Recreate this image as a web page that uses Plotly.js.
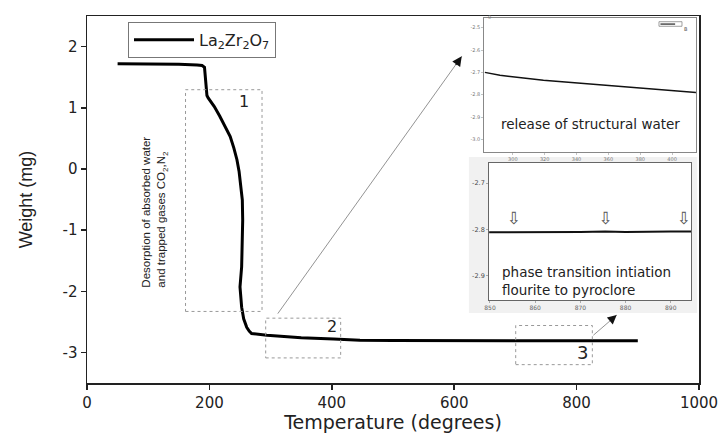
<!DOCTYPE html>
<html>
<head>
<meta charset="utf-8">
<script src="https://cdn.plot.ly/plotly-3.0.1.min.js"></script>
<style>html,body{margin:0;padding:0;background:#fff;}#chart{width:720px;height:435px;}</style>
</head>
<body>
<div id="chart"></div>
<script>
// ---- main TGA curve ----
const tempC = [50,100,150,180,188,192,193.5,194.5,196,198,202,208,217,225,234,240,245,248.5,251,253.8,254.4,254,252.7,250,252.7,256,261,265,269,294,350,403,446,500,600,700,800,900];
const weightMg = [1.72,1.72,1.71,1.70,1.69,1.66,1.45,1.25,1.20,1.16,1.11,1.02,0.86,0.71,0.53,0.34,0.15,-0.04,-0.23,-0.51,-0.84,-1.05,-1.60,-1.93,-2.26,-2.45,-2.59,-2.65,-2.69,-2.72,-2.76,-2.78,-2.80,-2.805,-2.81,-2.81,-2.81,-2.81];
const xTickVals = [0,200,400,600,800,1000];
const xTickText = ['0','200','400','600','800','1000'];
const yTickVals = [-3,-2,-1,0,1,2];
const yTickText = ['-3','-2','-1','0','1','2'];

// ---- upper inset (region 2) ----
const insetAX = [282.4,291.9,319.2,350.8,382.3,416];
const insetAY = [-2.700,-2.713,-2.735,-2.754,-2.772,-2.791];
const insetAXTicks = [300,320,340,360,380,400];
const insetAYTicks = [-2.5,-2.6,-2.7,-2.8,-2.9,-3.0];
const insetAYText = ['-2.5','-2.6','-2.7','-2.8','-2.9','-3.0'];

// ---- lower inset (region 3) ----
const insetBX = [849.8,855,856,860,870,875.5,880,890,893,894.5];
const insetBY = [-2.806,-2.806,-2.805,-2.806,-2.805,-2.804,-2.805,-2.804,-2.803,-2.804];
const insetBXTicks = [850,860,870,880,890];
const insetBYTicks = [-2.7,-2.8,-2.9];
const insetBYText = ['-2.7','-2.8','-2.9'];
const markX = [855.3,875.6,892.9];
const markY = [-2.779,-2.779,-2.779];

const traces = [
  {x: tempC, y: weightMg, type:'scatter', mode:'lines', name:'La<sub>2</sub>Zr<sub>2</sub>O<sub>7</sub>',
   line:{color:'#000', width:3}, xaxis:'x', yaxis:'y'},
  {x: insetAX, y: insetAY, type:'scatter', mode:'lines', showlegend:false,
   line:{color:'#111', width:1.5}, xaxis:'x2', yaxis:'y2'},
  {x: insetBX, y: insetBY, type:'scatter', mode:'lines', showlegend:false,
   line:{color:'#111', width:2}, xaxis:'x3', yaxis:'y3'},
  {x: markX, y: markY, type:'scatter', mode:'text', showlegend:false, text: markX.map(()=>'⇩'),
   textfont:{family:'DejaVu Sans', size:17, color:'#555'}, xaxis:'x3', yaxis:'y3'}
];

const dotLine = {color:'#999', width:1, dash:'dot'};
const layout = {
  width:720, height:435,
  margin:{l:87, r:21, t:16, b:52},
  paper_bgcolor:'#fff', plot_bgcolor:'#fff',
  font:{family:'DejaVu Sans', color:'#222'},
  showlegend:true,
  legend:{x:0.067, y:0.984, xanchor:'left', yanchor:'top', bgcolor:'#fff', bordercolor:'#777', borderwidth:1,
          font:{family:'DejaVu Sans', size:16, color:'#222'}, itemwidth:60, tracegroupgap:0},
  xaxis:{domain:[0,1], range:[0,1000], tickvals:xTickVals, ticktext:xTickText, ticks:'outside', ticklen:5, tickwidth:1.5,
         tickcolor:'#222', showline:true, mirror:true, linewidth:1.5, linecolor:'#222', showgrid:false, zeroline:false,
         tickfont:{size:15, color:'#222'}, anchor:'y',
         title:{text:'Temperature (degrees)', font:{size:19, color:'#222'}, standoff:4}},
  yaxis:{domain:[0,1], range:[-3.5,2.5], tickvals:yTickVals, ticktext:yTickText, ticks:'outside', ticklen:5, tickwidth:1.5,
         tickcolor:'#222', showline:true, mirror:true, linewidth:1.5, linecolor:'#222', showgrid:false, zeroline:false,
         tickfont:{size:15, color:'#222'}, anchor:'x',
         title:{text:'Weight (mg)', font:{family:'Liberation Sans', size:18, color:'#222'}, standoff:25}},
  xaxis2:{domain:[0.649,0.995], range:[282,415], anchor:'y2', tickvals:insetAXTicks, ticks:'outside', ticklen:2, tickwidth:0.5,
          tickcolor:'#888', showline:true, mirror:true, linewidth:1, linecolor:'#888', showgrid:false, zeroline:false,
          tickfont:{size:5, color:'#777'}},
  yaxis2:{domain:[0.6286,0.9954], range:[-3.058,-2.455], anchor:'x2', tickvals:insetAYTicks, ticktext:insetAYText, ticks:'outside',
          ticklen:2, tickwidth:0.5, tickcolor:'#888', showline:true, mirror:true, linewidth:1, linecolor:'#888', showgrid:false,
          zeroline:false, tickfont:{size:5, color:'#777'}},
  xaxis3:{domain:[0.657,0.987], range:[849.8,894.5], anchor:'y3', tickvals:insetBXTicks, ticks:'outside', ticklen:2, tickwidth:0.5,
          tickcolor:'#666', showline:true, mirror:true, linewidth:1, linecolor:'#666', showgrid:false, zeroline:false,
          tickfont:{size:6, color:'#666'}},
  yaxis3:{domain:[0.226,0.600], range:[-2.952,-2.656], anchor:'x3', tickvals:insetBYTicks, ticktext:insetBYText, ticks:'outside',
          ticklen:2, tickwidth:0.5, tickcolor:'#666', showline:true, mirror:true, linewidth:1, linecolor:'#666', showgrid:false,
          zeroline:false, tickfont:{size:6.5, color:'#444'}},
  shapes:[
    {type:'rect', xref:'paper', yref:'paper', x0:0.624, x1:0.997, y0:0.191, y1:0.616, fillcolor:'#f1f1f1', line:{width:0}, layer:'below'},
    {type:'rect', xref:'x', yref:'y', x0:161, x1:286, y0:-2.33, y1:1.295, line:dotLine},
    {type:'rect', xref:'x', yref:'y', x0:292, x1:414.5, y0:-3.09, y1:-2.44, line:dotLine},
    {type:'rect', xref:'x', yref:'y', x0:700.5, x1:825.7, y0:-3.20, y1:-2.56, line:dotLine},
    {type:'rect', xref:'paper', yref:'paper', x0:0.9346, x1:0.9722, y0:0.972, y1:0.9845, line:{color:'#777', width:0.7}, fillcolor:'#fff'},
    {type:'line', xref:'paper', yref:'paper', x0:0.937, x1:0.961, y0:0.978, y1:0.978, line:{color:'#222', width:1.2}}
  ],
  annotations:[
    {x:256, y:1.11, xref:'x', yref:'y', text:'1', showarrow:false, font:{size:16, color:'#222'}},
    {x:400, y:-2.57, xref:'x', yref:'y', text:'2', showarrow:false, font:{size:16, color:'#222'}},
    {x:810, y:-3.0, xref:'x', yref:'y', text:'3', showarrow:false, font:{size:18, color:'#222'}},
    {x:111, y:-0.70, xref:'x', yref:'y', textangle:-90, align:'left', showarrow:false, borderpad:0,
     text:'Desorption of absorbed water<br>and trapped gases CO<sub>2</sub>,N<sub>2</sub>',
     font:{family:'Liberation Sans', size:11.5, color:'#222'}},
    {x:612.3, y:1.84, xref:'x', yref:'y', ax:310, ay:-2.39, axref:'x', ayref:'y', text:'', showarrow:true,
     arrowhead:0, arrowwidth:0.8, arrowcolor:'#777'},
    {x:612.3, y:1.84, xref:'x', yref:'y', ax:-7, ay:10, text:'', showarrow:true,
     arrowhead:2, arrowsize:1.6, arrowwidth:1.2, arrowcolor:'#111'},
    {x:865.5, y:-2.39, xref:'x', yref:'y', ax:825, ay:-2.74, axref:'x', ayref:'y', text:'', showarrow:true,
     arrowhead:0, arrowwidth:0.8, arrowcolor:'#777'},
    {x:865.5, y:-2.39, xref:'x', yref:'y', ax:-7.6, ay:6.5, text:'', showarrow:true,
     arrowhead:2, arrowsize:1.5, arrowwidth:1.2, arrowcolor:'#111'},
    {x:0.5, y:0.208, xref:'x2 domain', yref:'y2 domain', xanchor:'center', yanchor:'middle',
     text:'release of structural water', showarrow:false, font:{family:'DejaVu Sans', size:13.5, color:'#222'}},
    {x:0.054, y:0.138, xref:'x3 domain', yref:'y3 domain', xanchor:'left', yanchor:'middle', align:'left', showarrow:false,
     text:'phase transition intiation<br>flourite to pyroclore', font:{family:'DejaVu Sans', size:13.5, color:'#222'}},
    {x:0.986, y:0.978, xref:'paper', yref:'paper', text:'B', showarrow:false, font:{size:5, color:'#555'}},
    {x:0.657, y:1.011, xref:'paper', yref:'paper', text:'0', showarrow:false, font:{size:5, color:'#777'}}
  ]
};

Plotly.newPlot('chart', traces, layout, {staticPlot:true, displayModeBar:false});
</script>
</body>
</html>
